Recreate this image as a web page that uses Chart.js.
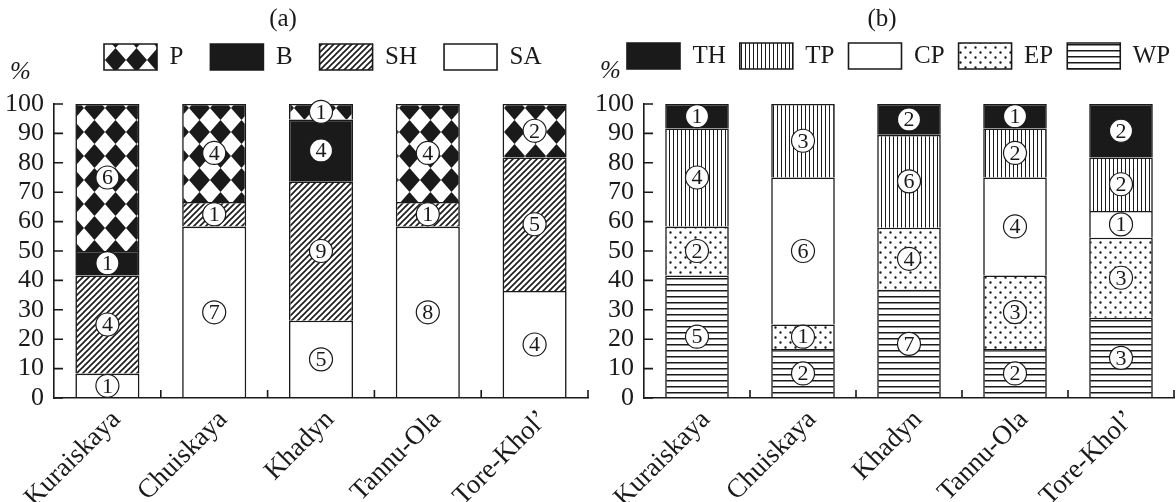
<!DOCTYPE html>
<html>
<head>
<meta charset="utf-8">
<script src="https://cdn.jsdelivr.net/npm/chart.js@4.4.1/dist/chart.umd.min.js"></script>
<style>
  body { margin: 0; background: #fff; }
  #wrap { position: relative; width: 1176px; height: 502px; }
  .panel { position: absolute; top: 0; height: 502px; }
  #panelA { left: 0; width: 590px; }
  #panelB { left: 588px; width: 588px; }
</style>
</head>
<body>
<div id="wrap">
  <div class="panel" id="panelA"><canvas id="chartA"></canvas></div>
  <div class="panel" id="panelB"><canvas id="chartB"></canvas></div>
</div>
<script>
let sites = ['Kuraiskaya', 'Chuiskaya', 'Khadyn', 'Tannu-Ola', 'Tore-Khol\u2019'];
let yMin = 0;
let yMax = 100;
let yStep = 10;

// (a) shares, % (bottom to top: SA, SH, B, P)
let saShare = [8.3, 58.3, 26.3, 58.3, 36.4];
let shShare = [33.4, 8.4, 47.4, 8.4, 45.4];
let bShare = [8.3, 0, 21.0, 0, 0];
let pShare = [50.0, 33.3, 5.3, 33.3, 18.2];
// (a) circled counts
let saCount = [1, 7, 5, 8, 4];
let shCount = [4, 1, 9, 1, 5];
let bCount = [1, 0, 4, 0, 0];
let pCount = [6, 4, 1, 4, 2];

// (b) shares, % (bottom to top: WP, EP, CP, TP, TH)
let wpShare = [41.7, 16.7, 36.8, 16.7, 27.3];
let epShare = [16.6, 8.3, 21.1, 25.0, 27.2];
let cpShare = [0, 50.0, 0, 33.3, 9.1];
let tpShare = [33.4, 25.0, 31.6, 16.7, 18.2];
let thShare = [8.3, 0, 10.5, 8.3, 18.2];
// (b) circled counts
let wpCount = [5, 2, 7, 2, 3];
let epCount = [2, 1, 4, 3, 3];
let cpCount = [0, 6, 0, 4, 1];
let tpCount = [4, 3, 6, 2, 2];
let thCount = [1, 0, 2, 1, 2];

let ink = '#1a1a1a';
let serif = "'Liberation Serif', 'Times New Roman', serif";

Chart.defaults.font.family = serif;
Chart.defaults.font.size = 25;
Chart.defaults.color = ink;

function makePattern(w, h, paint) {
    let c = document.createElement('canvas');
    c.width = w;
    c.height = h;
    let g = c.getContext('2d');
    g.fillStyle = '#fff';
    g.fillRect(0, 0, w, h);
    g.fillStyle = ink;
    g.strokeStyle = ink;
    paint(g, w, h);
    return g.createPattern(c, 'repeat');
}

let diamonds = makePattern(21, 24, (g, w, h) => {
    g.beginPath();
    g.moveTo(w / 2, 0);
    g.lineTo(w, h / 2);
    g.lineTo(w / 2, h);
    g.lineTo(0, h / 2);
    g.closePath();
    g.fill();
});
let hatch = makePattern(6, 6, (g, w, h) => {
    g.lineWidth = 1.6;
    g.beginPath();
    g.moveTo(-1, h + 1); g.lineTo(w + 1, -1);
    g.moveTo(-1, 1); g.lineTo(1, -1);
    g.moveTo(w - 1, h + 1); g.lineTo(w + 1, h - 1);
    g.stroke();
});
let vlines = makePattern(4, 4, (g, w, h) => { g.fillRect(1, 0, 1, h); });
let dots = makePattern(10, 10, (g) => {
    g.beginPath();
    g.arc(2.5, 2.5, 1.2, 0, Math.PI * 2);
    g.arc(7.5, 7.5, 1.2, 0, Math.PI * 2);
    g.fill();
});
let hlines = makePattern(4, 6, (g, w) => { g.fillRect(0, 2, w, 1.5); });

function bars(label, data, counts, fill) {
    return {
        label: label,
        data: data,
        counts: counts,
        backgroundColor: fill,
        borderColor: ink,
        borderWidth: 1.6,
        categoryPercentage: 1,
        barPercentage: 0.6
    };
}

// circled counts in the middle of each segment
const badges = {
    id: 'badges',
    afterDatasetsDraw(chart) {
        let ctx = chart.ctx;
        chart.data.datasets.forEach((d, di) => {
            chart.getDatasetMeta(di).data.forEach((bar, i) => {
                let n = d.counts[i];
                if (!n) return;
                let y = (bar.y + bar.base) / 2;
                ctx.save();
                ctx.beginPath();
                ctx.arc(bar.x, y, 11.5, 0, Math.PI * 2);
                ctx.fillStyle = '#fff';
                ctx.fill();
                ctx.lineWidth = 1.2;
                ctx.strokeStyle = ink;
                ctx.stroke();
                ctx.fillStyle = ink;
                ctx.font = '22px ' + serif;
                ctx.textAlign = 'center';
                ctx.textBaseline = 'middle';
                ctx.fillText(String(n), bar.x, y + 1);
                ctx.restore();
            });
        });
    }
};

// inward tick marks and the "%" unit
const axisMarks = {
    id: 'axisMarks',
    afterDraw(chart, args, opts) {
        let {ctx, chartArea: a, scales: {x, y}} = chart;
        ctx.save();
        ctx.strokeStyle = ink;
        ctx.lineWidth = 1.6;
        ctx.beginPath();
        y.ticks.forEach(t => {
            let py = y.getPixelForValue(t.value);
            ctx.moveTo(a.left, py);
            ctx.lineTo(a.left + 9, py);
        });
        x.ticks.forEach((t, i) => {
            let px = x.getPixelForValue(i + 0.5);
            ctx.moveTo(px, a.bottom);
            ctx.lineTo(px, a.bottom - 8);
        });
        ctx.stroke();
        ctx.font = 'italic 25px ' + serif;
        ctx.fillStyle = ink;
        ctx.textBaseline = 'middle';
        ctx.fillText('%', a.left - 44, opts.unitY);
        ctx.restore();
    }
};

// move title and legend to where the figure has them
const place = {
    id: 'place',
    afterLayout(chart, args, opts) {
        let tb = chart.titleBlock;
        let lg = chart.legend;
        if (tb) {
            let dx = opts.titleX - (tb.left + tb.right) / 2;
            tb.left += dx;
            tb.right += dx;
        }
        if (lg) {
            let pad = lg.options.labels.padding;
            let start = (lg.left + pad + lg.right - lg.lineWidths[0]) / 2;
            let dx = opts.legendX - start;
            let dy = opts.legendY - (lg.top + pad);
            lg.left += dx;
            lg.right += dx;
            lg.top += dy;
            lg.bottom += dy;
        }
    }
};

function makeChart(id, title, datasets, cfg) {
    return new Chart(document.getElementById(id), {
        type: 'bar',
        data: { labels: sites, datasets: datasets },
        plugins: [badges, axisMarks, place],
        options: {
            responsive: true,
            maintainAspectRatio: false,
            animation: false,
            events: [],
            layout: { padding: { left: 0, right: 2, top: 0, bottom: 0 } },
            scales: {
                x: {
                    stacked: true,
                    offset: true,
                    grid: { display: false, drawTicks: false },
                    border: { display: true, color: ink, width: 1.6, z: 1 },
                    ticks: { minRotation: 45, maxRotation: 45, autoSkip: false, padding: 6, labelOffset: 9, color: ink, font: { size: 27 } },
                    afterFit(s) { s.height = 104; }
                },
                y: {
                    stacked: true,
                    min: yMin,
                    max: yMax,
                    grid: { display: false, drawTicks: false },
                    border: { display: true, color: ink, width: 1.6, z: 1 },
                    ticks: { stepSize: yStep, autoSkip: false, padding: 10, color: ink, font: { size: 26 } },
                    afterFit(s) { s.width = cfg.axisWidth; }
                }
            },
            plugins: {
                tooltip: { enabled: false },
                title: {
                    display: true,
                    text: title,
                    color: ink,
                    font: { size: 25, weight: 'normal' },
                    padding: { top: 4, bottom: cfg.titleGap }
                },
                legend: {
                    display: true,
                    reverse: true,
                    labels: {
                        boxWidth: 53,
                        boxHeight: 26,
                        padding: cfg.legendPad,
                        color: ink,
                        font: { size: 25 }
                    }
                },
                axisMarks: { unitY: cfg.unitY },
                place: { titleX: cfg.titleX, legendX: cfg.legendX, legendY: cfg.legendY }
            }
        }
    });
}

makeChart('chartA', '(a)', [
    bars('SA', saShare, saCount, '#fff'),
    bars('SH', shShare, shCount, hatch),
    bars('B', bShare, bCount, ink),
    bars('P', pShare, pCount, diamonds)
], { axisWidth: 54, titleGap: 7, legendPad: 27, titleX: 283, legendX: 104, legendY: 44, unitY: 72 });

makeChart('chartB', '(b)', [
    bars('WP', wpShare, wpCount, hlines),
    bars('EP', epShare, epCount, dots),
    bars('CP', cpShare, cpCount, '#fff'),
    bars('TP', tpShare, tpCount, vlines),
    bars('TH', thShare, thCount, ink)
], { axisWidth: 56, titleGap: 20, legendPad: 14, titleX: 294, legendX: 39, legendY: 43, unitY: 71 });
</script>
</body>
</html>
